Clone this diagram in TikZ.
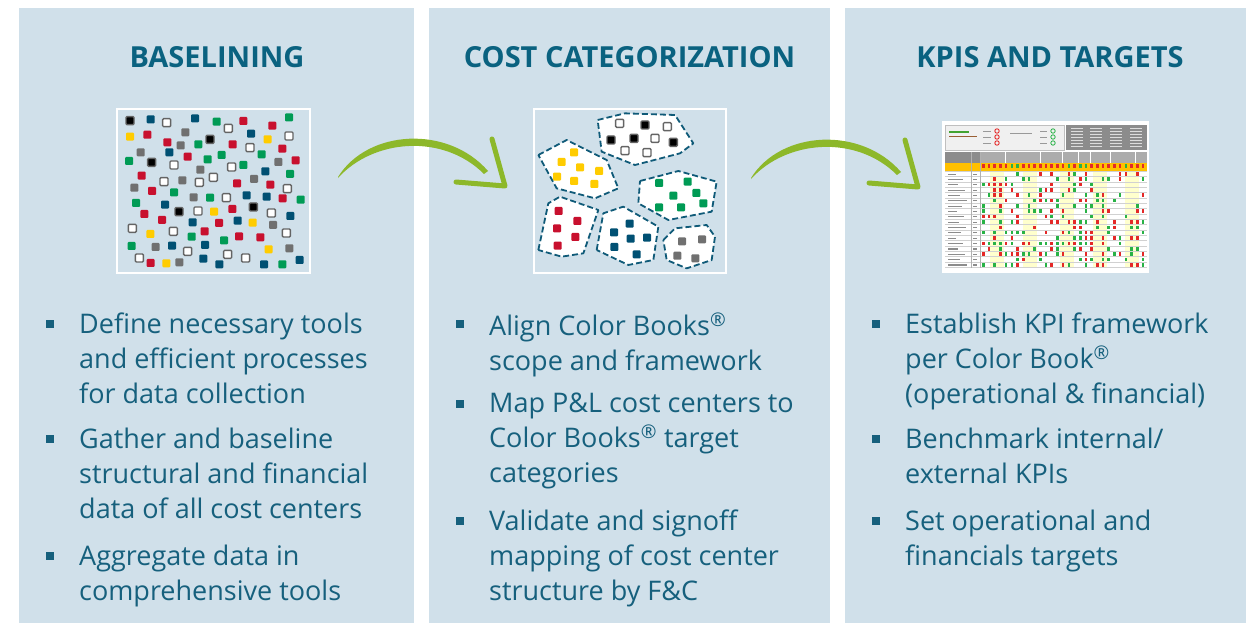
\documentclass[tikz,border=0pt]{standalone}
\usepackage{fontspec}
\setmainfont{Open Sans}
\usetikzlibrary{positioning}

\definecolor{panelbg}{RGB}{208,224,234}
\definecolor{headc}{RGB}{10,98,128}
\definecolor{txtc}{RGB}{22,96,125}
\definecolor{sqedge}{RGB}{100,100,100}
\definecolor{sqblue}{RGB}{0,80,115}
\definecolor{sqgreen}{RGB}{0,155,85}
\definecolor{sqred}{RGB}{200,16,46}
\definecolor{sqyellow}{RGB}{255,204,0}
\definecolor{sqgray}{RGB}{112,112,112}
\definecolor{dashc}{RGB}{15,90,120}
\definecolor{arrowgreen}{RGB}{141,184,42}
\definecolor{kpired}{RGB}{228,40,40}
\definecolor{kpigreen}{RGB}{40,178,70}
\definecolor{kpiyel}{RGB}{255,192,0}
\definecolor{kpilt}{RGB}{255,255,205}
\definecolor{kpihead}{RGB}{172,172,172}
\definecolor{kpidark}{RGB}{140,140,140}

\tikzset{
  panel/.style={fill=panelbg, draw=none, inner sep=0pt},
  heading/.style={font=\bfseries\fontsize{29}{32}\selectfont, text=headc, inner sep=0pt},
  item/.style={anchor=north west, align=left, font=\fontsize{27}{35}\selectfont, text=txtc, inner sep=0pt,
    execute at begin node=\strut},
  bulsq/.style={fill=txtc, minimum size=8pt, inner sep=0pt},
  imgframe/.style={draw=white, line width=1.8pt, inner sep=0pt},
  sqk/.style={fill=black, draw=sqedge, line width=1.4pt, rounded corners=1pt},
  sqw/.style={fill=white, draw=sqedge, line width=1.4pt, rounded corners=1pt},
  sqb/.style={fill=sqblue, rounded corners=1pt},
  sqg/.style={fill=sqgreen, rounded corners=1pt},
  sqr/.style={fill=sqred, rounded corners=1pt},
  sqy/.style={fill=sqyellow, rounded corners=1pt},
  sqa/.style={fill=sqgray, rounded corners=1pt},
  cluster/.style={fill=white, draw=dashc, line width=1.8pt, dash pattern=on 6pt off 3pt, line join=round},
  brush/.pic={
    \fill[arrowgreen] (0,0) .. controls (30,-48) and (110,-52) .. (150,-6)
      -- (146,-3) .. controls (105,-44) and (35,-38) .. (0,1) -- cycle;
    \draw[arrowgreen, line width=5pt, line cap=round, line join=round] (154,-38) -- (167,9) -- (118,5);
  }
}

\begin{document}
\begin{tikzpicture}[x=1pt, y=-1pt]
\useasboundingbox (0,0) rectangle (1253,623);

% three panels
\node[panel, minimum width=395pt, minimum height=615pt] (p1) at (216.5,315.5) {};
\node[panel, minimum width=401pt, minimum height=615pt] (p2) at (629.5,315.5) {};
\node[panel, minimum width=401pt, minimum height=615pt] (p3) at (1045.5,315.5) {};

% headings
\node[heading] (h1) at (217,57.5) {BASELINING};
\node[heading] (h2) at (629.5,57.5) {COST CATEGORIZATION};
\node[heading] (h3) at (1050,57.5) {KPIS AND TARGETS};

% picture 1: scattered cost centers
\node[imgframe, minimum width=193pt, minimum height=164pt] (img1) at (213.5,191) {};
\begin{scope}[xshift=110pt, yshift=-100pt, x=1pt/3, y=-1pt/3]
  \foreach \x/\y/\c in {60/62/sqk, 122/58/sqb, 170/68/sqw, 255/55/sqb, 320/65/sqg, 355/85/sqw, 400/63/sqr, 487/77/sqr, 537/52/sqg,
    60/110/sqy, 112/104/sqr, 226/97/sqa, 172/127/sqr, 212/136/sqa, 265/133/sqg, 300/118/sqk, 368/133/sqr, 420/143/sqw, 473/118/sqy,
    537/108/sqw, 423/101/sqb, 517/146/sqr, 455/163/sqg, 178/157/sqb, 92/157/sqa,
    57/183/sqg, 125/187/sqk, 192/195/sqw, 233/170/sqr, 293/178/sqg, 335/165/sqg, 365/201/sqw, 400/195/sqg, 505/186/sqa, 557/181/sqr,
    95/227/sqr, 271/209/sqa, 310/232/sqw, 466/214/sqb, 540/222/sqg, 162/245/sqw, 217/241/sqa, 268/247/sqw, 381/250/sqr, 432/237/sqa, 481/254/sqr,
    73/263/sqa, 126/273/sqr, 192/277/sqg, 251/292/sqa, 300/293/sqg, 349/293/sqw, 410/286/sqb, 470/290/sqb, 518/295/sqr, 572/299/sqg, 532/266/sqw,
    78/309/sqg, 165/314/sqb, 207/335/sqk, 264/333/sqw, 312/335/sqy, 367/327/sqr, 430/321/sqk, 484/339/sqw, 541/348/sqb, 103/342/sqr,
    156/360/sqr, 248/367/sqb, 327/369/sqr, 383/362/sqb, 428/368/sqy, 489/375/sqa, 67/385/sqw, 121/402/sqy, 190/394/sqw, 284/394/sqr,
    245/410/sqg, 342/421/sqg, 387/409/sqr, 451/412/sqr, 529/399/sqw,
    65/438/sqg, 137/441/sqa, 186/437/sqb, 233/454/sqw, 285/435/sqb, 353/463/sqw, 407/474/sqw, 476/448/sqy, 538/445/sqa, 88/474/sqw,
    122/489/sqr, 169/490/sqy, 208/487/sqa, 280/476/sqb, 328/493/sqb, 462/493/sqb, 517/493/sqg, 569/480/sqb}
    \path[\c] (\x,\y) ++(-4pt,-4pt) rectangle ++(8pt,8pt);
\end{scope}

% picture 2: grouped categories
\node[imgframe, minimum width=192pt, minimum height=164pt] (img2) at (630,191) {};
\begin{scope}[xshift=525pt, yshift=-100pt, x=1pt/3, y=-1pt/3]
  \path[cluster] (218,60) -- (300,40) -- (450,45) -- (505,130) -- (465,160) -- (330,195) -- (230,155) -- cycle;
  \path[cluster] (40,165) -- (125,120) -- (245,180) -- (280,265) -- (210,295) -- (95,265) -- cycle;
  \path[cluster] (345,243) -- (460,213) -- (575,245) -- (560,335) -- (430,360) -- (340,310) -- cycle;
  \path[cluster] (40,450) -- (70,310) -- (105,290) -- (220,330) -- (175,460) -- (110,470) -- cycle;
  \path[cluster] (215,450) -- (235,340) -- (295,320) -- (400,380) -- (385,480) -- (310,495) -- cycle;
  \path[cluster] (415,420) -- (450,385) -- (545,375) -- (570,410) -- (560,480) -- (485,505) -- (425,480) -- cycle;
  \foreach \x/\y/\c in {284/70/sqw, 360/75/sqk, 427/80/sqw, 258/120/sqk, 327/115/sqk, 390/115/sqw, 445/127/sqk, 300/152/sqw, 366/158/sqw,
    147/157/sqy, 110/186/sqy, 165/202/sqy, 222/213/sqy, 96/230/sqy, 147/243/sqy, 208/252/sqy,
    402/249/sqg, 488/245/sqg, 445/287/sqg, 514/279/sqg, 402/322/sqg, 468/322/sqg, 535/310/sqg,
    101/333/sqr, 157/363/sqr, 96/385/sqr, 151/411/sqr, 98/437/sqr,
    314/371/sqb, 267/397/sqb, 317/416/sqb, 366/413/sqb, 268/441/sqb, 335/463/sqb,
    471/424/sqa, 531/418/sqa, 457/467/sqa, 511/475/sqa}
    \path[\c] (\x,\y) ++(-4pt,-4pt) rectangle ++(8pt,8pt);
\end{scope}

% picture 3: KPI sheet
\node[imgframe, fill=white, minimum width=205pt, minimum height=150pt] (img3) at (1045.5,197) {};
\filldraw[fill=black!6, draw=black!25, line width=0.4pt] (945,125) rectangle (1064,150);
\fill[kpidark] (1066,125) rectangle (1147,150);
\foreach \cx in {1071,1090,1110,1130}
  \foreach \ry in {128,131,...,147}
    \fill[white!70!kpidark] (\cx,\ry) rectangle ++(12,1.2);
\fill[kpigreen!70!olive] (949,131) rectangle ++(20,1.6);
\fill[kpired!60!kpigreen] (949,136) rectangle ++(28,1.2);
\foreach \ry in {131,137,143}{
  \fill[black!40] (983,\ry) rectangle ++(8,1);
  \draw[kpired, line width=0.9pt] (997,\ry) circle (2.2pt);
  \fill[black!40] (1040,\ry) rectangle ++(7,1);
  \draw[kpigreen, line width=0.8pt] (1053,\ry) circle (2.2pt);
}
\fill[black!40] (1010,133) rectangle ++(22,1.2);
\fill[kpihead] (945,152) rectangle (1147,163);
\fill[black!45] (945,152) rectangle (980,163);
\foreach \vx in {1005,1040,1062,1078,1090,1110,1135}
  \draw[white, line width=0.6pt] (\vx,152) -- (\vx,163);
\fill[kpiyel] (945,163) rectangle (1147,171);
\foreach \bx in {990,1023,1060,1093,1125}
  \fill[kpilt] (\bx,171) rectangle ++(14,97);
\foreach \ry in {0,...,18}
  \draw[black!18, line width=0.3pt] (945,{171+\ry*5.35}) -- (1147,{171+\ry*5.35});
\draw[black!30, line width=0.4pt] (971,152) -- (971,268) (980,152) -- (980,268);
\foreach \row in {0,...,17}{
  \fill[black!45] (948,{173.5+\row*5.35}) rectangle ++({8+mod(\row*7,12)},1.1);
  \fill[black!45] (973,{173.5+\row*5.35}) rectangle ++(4,1.1);
}
\pgfmathsetseed{42}
\foreach \col in {0,...,28}{
  \pgfmathrandominteger{\k}{0}{3}
  \ifnum\k<3 \fill[kpired] ({982+\col*5.7},164.5) rectangle ++(2.6,3.6);\else \fill[kpigreen] ({982+\col*5.7},164.5) rectangle ++(2.6,3.6);\fi
}
\foreach \row in {0,...,17}{
  \foreach \col in {0,...,28}{
    \pgfmathrandominteger{\k}{0}{9}
    \ifnum\k<2 \fill[kpired] ({982+\col*5.7},{172+\row*5.35}) rectangle ++(2.6,3.6);\fi
    \ifnum\k>7 \fill[kpigreen] ({982+\col*5.7},{172+\row*5.35}) rectangle ++(2.6,3.6);\fi
  }
}

% bullet texts
\node[item] (t11) at (79,312.5) {Define necessary tools\\and efficient processes\\for data collection};
\node[item] (t12) at (79,427.5) {Gather and baseline\\structural and financial\\data of all cost centers};
\node[item] (t13) at (79,544.5) {Aggregate data in\\comprehensive tools};
\node[item] (t21) at (489,312.5) {Align Color Books\textsuperscript{®}\\scope and framework};
\node[item] (t22) at (489,392.5) {Map P\&L cost centers to\\Color Books\textsuperscript{®} target\\categories};
\node[item] (t23) at (489,509.5) {Validate and signoff\\mapping of cost center\\structure by F\&C};
\node[item] (t31) at (905,312.5) {Establish KPI framework\\per Color Book\textsuperscript{®}\\(operational \& financial)};
\node[item] (t32) at (905,427.5) {Benchmark internal/\\external KPIs};
\node[item] (t33) at (905,509.5) {Set operational and\\financials targets};
\foreach \t in {t11,t12,t13,t21,t22,t23,t31,t32,t33}
  \node[bulsq] (b\t) at ([shift={(-29.5pt,-11.5pt)}]\t.north west) {};

% arrows between the pictures
\coordinate (arrA) at (338,177);
\coordinate (arrB) at (751,178);
\pic at (arrA) {brush};
\pic at (arrB) {brush};
\end{tikzpicture}
\end{document}
